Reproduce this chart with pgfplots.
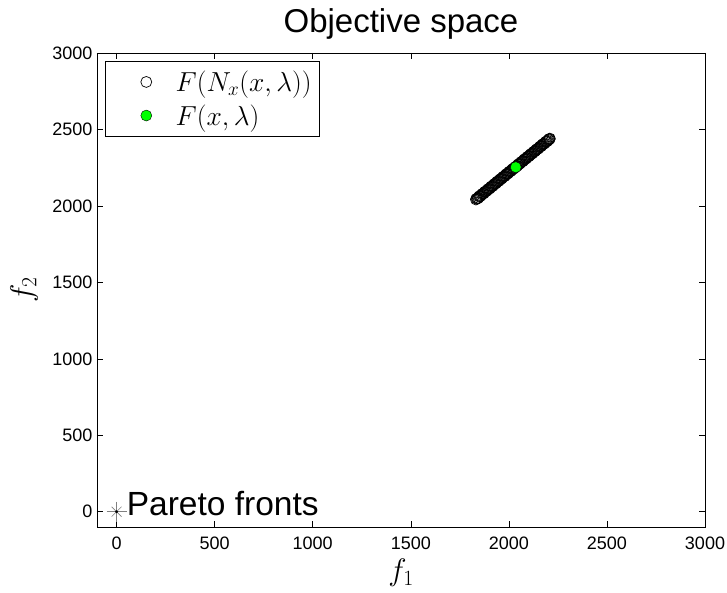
\RequirePackage{fix-cm}
\documentclass[border=0pt]{standalone}
\usepackage{fontspec}
\setmainfont{Liberation Sans}
\usepackage{pgfplots}
\pgfplotsset{compat=1.18}

\begin{document}
\begin{tikzpicture}
\begin{axis}[
  scale only axis,
  width=608pt, height=474pt,
  xmin=-100, xmax=3000, ymin=-100, ymax=3000,
  xtick={0,500,...,3000}, ytick={0,500,...,3000},
  tick align=inside,
  major tick length=6pt,
  axis line style={line width=0.8pt},
  every tick/.style={black, line width=0.6pt},
  /pgf/number format/assume math mode=true,
  /pgf/number format/1000 sep={},
  tick label style={font=\fontsize{18}{21}\selectfont},
  xticklabel style={yshift=-6pt},
  yticklabel style={xshift=-1pt},
  title={Objective space},
  title style={font=\fontsize{33}{38}\selectfont, at={(axis description cs:0.5,1)}, anchor=base, yshift=14pt},
  xlabel={$f_1$},
  ylabel={$f_2$},
  xlabel style={font=\fontsize{31}{36}\selectfont, at={(axis description cs:0.5,-0.097)}, anchor=center},
  ylabel style={font=\fontsize{31}{36}\selectfont, at={(axis description cs:-0.12,0.5)}, anchor=center},
  legend style={at={(axis description cs:0,1)}, anchor=north west, xshift=8pt, yshift=-8pt,
    font=\fontsize{27.5}{32}\selectfont, draw=black, line width=0.8pt,
    inner xsep=5.5pt, inner ysep=7.5pt, row sep=7.5pt,
    nodes={inner sep=2pt}},
  legend cell align=left,
  legend image code/.code={%
    \path (0pt,0pt) (62pt,0pt);
    \draw[mark repeat=2, mark phase=2, #1] plot coordinates {(0pt,0pt) (35pt,0pt) (62pt,0pt)};},
  clip=false,
]
% neighbourhood images F(N_x(x,lambda))
\addplot[only marks, mark=o, mark size=5.5pt, mark options={draw=black, line width=0.7pt}]
coordinates {
(1832,2042) (1838,2048) (1845,2053) (1851,2064) (1858,2068) (1866,2080)
(1873,2083) (1880,2094) (1889,2101) (1896,2111) (1904,2116) (1912,2128)
(1919,2132) (1927,2144) (1935,2149) (1942,2160) (1950,2165) (1958,2176)
(1965,2181) (1973,2192) (1981,2197) (1989,2209) (1996,2213) (2004,2225)
(2012,2230) (2020,2242) (2027,2246) (2035,2257) (2043,2262) (2051,2274)
(2058,2279) (2066,2290) (2074,2295) (2082,2307) (2090,2312) (2097,2323)
(2105,2328) (2113,2340) (2121,2345) (2129,2356) (2136,2361) (2144,2372)
(2152,2378) (2160,2389) (2167,2393) (2175,2405) (2183,2410) (2190,2421)
(2198,2426) (2205,2436) (2209,2440)
(1835,2047) (1841.5,2050) (1848,2061) (1854.5,2064) (1862,2075) (1869.5,2080)
(1876.5,2091) (1884.5,2096) (1892.5,2107) (1900,2112) (1908,2124) (1915.5,2128)
(1923,2139) (1931,2145) (1938.5,2156) (1946,2161) (1954,2172) (1961.5,2177)
(1969,2188) (1977,2193) (1985,2205) (1992.5,2210) (2000,2221) (2008,2226)
(2016,2237) (2023.5,2242) (2031,2253) (2039,2259) (2047,2270) (2054.5,2275)
(2062,2286) (2070,2291) (2078,2303) (2086,2308) (2093.5,2319) (2101,2324)
(2109,2335) (2117,2341) (2125,2352) (2132.5,2357) (2140,2368) (2148,2373)
(2156,2385) (2163.5,2390) (2171,2401) (2179,2406) (2186.5,2417) (2194,2422)
(2201.5,2432) (2207,2437)
};
\addlegendentry{$F(N_x(x,\lambda))$}
% current point F(x,lambda)
\addplot[only marks, mark=*, mark size=5.5pt, mark options={fill=green, draw=black, line width=0.4pt}]
coordinates {(2035,2253)};
\addlegendentry{$F(x,\lambda)$}
% Pareto front markers at the origin
\addplot[only marks, mark=+, mark size=10pt, mark options={draw=gray, line width=0.6pt}, forget plot]
coordinates {(0,0)};
\addplot[only marks, mark=x, mark size=7pt, mark options={draw=gray, line width=0.6pt}, forget plot]
coordinates {(0,0)};
\addplot[only marks, mark=*, mark size=1.2pt, black, forget plot]
coordinates {(0,0)};
\node[anchor=base west, inner sep=0pt, xshift=10pt, yshift=-4pt, font=\fontsize{33.5}{38}\selectfont] at (axis cs:0,0) {Pareto fronts};
\coordinate (O) at (rel axis cs:0,0);
\coordinate (T) at (rel axis cs:1,1);
\end{axis}
\pgfresetboundingbox
\path ([shift={(-97pt,-66pt)}]O) rectangle ([shift={(22pt,53pt)}]T);
\end{tikzpicture}
\end{document}
